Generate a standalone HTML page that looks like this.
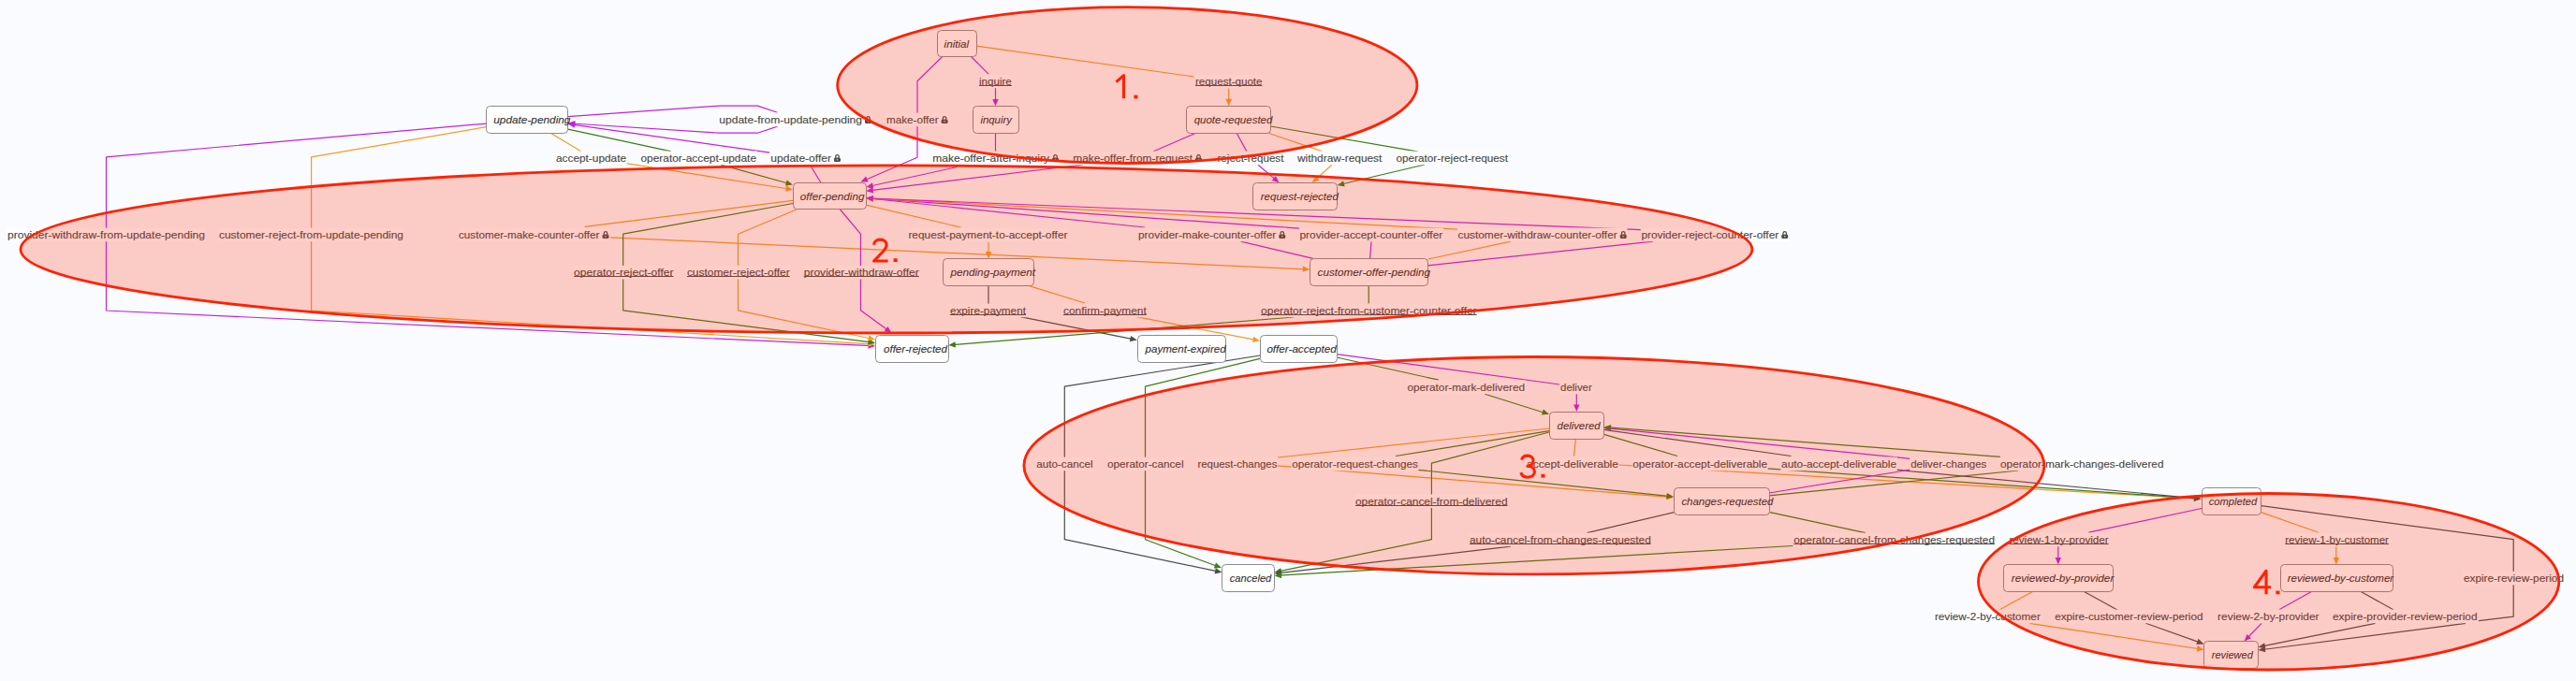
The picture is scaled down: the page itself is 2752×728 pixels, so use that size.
<!DOCTYPE html><html><head><meta charset="utf-8"><style>html,body{margin:0;padding:0;background:#fafbfe;overflow:hidden}svg{display:block}text{font-family:"Liberation Sans",sans-serif}</style></head><body>
<svg width="2752" height="728" viewBox="0 0 2752 728">
<rect width="2752" height="728" fill="#fafbfe"/>
<polyline points="606.8,124.7 769,113.1 809.3,113.1 830.6,120.3" fill="none" stroke="#c51fe0" stroke-width="1.2" stroke-linejoin="round"/>
<polyline points="830.6,135.1 809.3,142.2 769,142.2 611.29,131.99" fill="none" stroke="#c51fe0" stroke-width="1.2" stroke-linejoin="round"/>
<polygon points="606.8,131.7 614.49,128.99 614.08,135.38" fill="#c51fe0"/>
<polyline points="587.8,142 620.8,161.8" fill="none" stroke="#f59c22" stroke-width="1.2" stroke-linejoin="round"/>
<polyline points="669,174.6 842.56,202" fill="none" stroke="#f59c22" stroke-width="1.2" stroke-linejoin="round"/>
<polygon points="847,202.7 839.09,204.69 840.09,198.37" fill="#f59c22"/>
<polyline points="606.8,138.2 717,161.8" fill="none" stroke="#3f7d10" stroke-width="1.2" stroke-linejoin="round"/>
<polyline points="770.3,176.1 842.67,196.29" fill="none" stroke="#3f7d10" stroke-width="1.2" stroke-linejoin="round"/>
<polygon points="847,197.5 838.92,198.57 840.64,192.4" fill="#3f7d10"/>
<polyline points="876.8,195 866.4,178" fill="none" stroke="#c51fe0" stroke-width="1.2" stroke-linejoin="round"/>
<polyline points="822.3,163.1 611.26,133.13" fill="none" stroke="#c51fe0" stroke-width="1.2" stroke-linejoin="round"/>
<polygon points="606.8,132.5 614.68,130.39 613.78,136.72" fill="#c51fe0"/>
<polyline points="519.5,132.1 113.5,167.8 113.5,332 930.5,369.69" fill="none" stroke="#c51fe0" stroke-width="1.2" stroke-linejoin="round"/>
<polygon points="935,369.9 927.36,372.75 927.66,366.36" fill="#c51fe0"/>
<polyline points="519.5,135.7 332.6,167.8 332.6,332 930.51,367.83" fill="none" stroke="#f59c22" stroke-width="1.2" stroke-linejoin="round"/>
<polygon points="935,368.1 927.32,370.85 927.7,364.46" fill="#f59c22"/>
<polyline points="847,214.3 624.7,242.4" fill="none" stroke="#f59c22" stroke-width="1.2" stroke-linejoin="round"/>
<polyline points="652,253.8 1394.8,287.79" fill="none" stroke="#f59c22" stroke-width="1.2" stroke-linejoin="round"/>
<polygon points="1399.3,288 1391.66,290.85 1391.95,284.46" fill="#f59c22"/>
<polyline points="847,217.5 665.7,250.2 665.7,331.8 930.54,365.83" fill="none" stroke="#3f7d10" stroke-width="1.2" stroke-linejoin="round"/>
<polygon points="935,366.4 927.15,368.62 927.97,362.27" fill="#3f7d10"/>
<polyline points="850.8,224 788.5,250.2 788.5,331.8 930.6,361.97" fill="none" stroke="#f59c22" stroke-width="1.2" stroke-linejoin="round"/>
<polygon points="935,362.9 927,364.47 928.33,358.21" fill="#f59c22"/>
<polyline points="897.6,224 919.5,250.2 919.5,331.8 948.96,353.25" fill="none" stroke="#c51fe0" stroke-width="1.2" stroke-linejoin="round"/>
<polygon points="952.6,355.9 944.65,354.07 948.42,348.9" fill="#c51fe0"/>
<polyline points="1007.2,60 980,86.7 980,168.3 923.63,192.71" fill="none" stroke="#c51fe0" stroke-width="1.2" stroke-linejoin="round"/>
<polygon points="919.5,194.5 925.11,188.58 927.65,194.46" fill="#c51fe0"/>
<polyline points="1037,60 1056.3,79.4" fill="none" stroke="#c51fe0" stroke-width="1.2" stroke-linejoin="round"/>
<polyline points="1063.5,94 1063.5,109" fill="none" stroke="#c51fe0" stroke-width="1.2" stroke-linejoin="round"/>
<polygon points="1063.5,113.5 1060.3,106 1066.7,106" fill="#c51fe0"/>
<polyline points="1043,49.2 1275.6,82" fill="none" stroke="#f59c22" stroke-width="1.2" stroke-linejoin="round"/>
<polyline points="1312.7,94.5 1312.7,108.8" fill="none" stroke="#f59c22" stroke-width="1.2" stroke-linejoin="round"/>
<polygon points="1312.7,113.3 1309.5,105.8 1315.9,105.8" fill="#f59c22"/>
<polyline points="1063.5,142 1063.5,162" fill="none" stroke="#c51fe0" stroke-width="1.2" stroke-linejoin="round"/>
<polyline points="1022.5,178.5 929.69,199.03" fill="none" stroke="#c51fe0" stroke-width="1.2" stroke-linejoin="round"/>
<polygon points="925.3,200 931.93,195.26 933.31,201.5" fill="#c51fe0"/>
<polyline points="1277.6,142.3 1231.9,162" fill="none" stroke="#c51fe0" stroke-width="1.2" stroke-linejoin="round"/>
<polyline points="1157.2,176 929.77,203.66" fill="none" stroke="#c51fe0" stroke-width="1.2" stroke-linejoin="round"/>
<polygon points="925.3,204.2 932.36,200.12 933.13,206.47" fill="#c51fe0"/>
<polyline points="1321.2,142.3 1332,162.1" fill="none" stroke="#c51fe0" stroke-width="1.2" stroke-linejoin="round"/>
<polyline points="1343.8,176 1363.07,192.39" fill="none" stroke="#c51fe0" stroke-width="1.2" stroke-linejoin="round"/>
<polygon points="1366.5,195.3 1358.71,192.88 1362.86,188" fill="#c51fe0"/>
<polyline points="1354.9,142.3 1412.3,161.6" fill="none" stroke="#f59c22" stroke-width="1.2" stroke-linejoin="round"/>
<polyline points="1423,176 1405.13,192.27" fill="none" stroke="#f59c22" stroke-width="1.2" stroke-linejoin="round"/>
<polygon points="1401.8,195.3 1405.19,187.88 1409.5,192.62" fill="#f59c22"/>
<polyline points="1357.4,135 1515,162.1" fill="none" stroke="#3f7d10" stroke-width="1.2" stroke-linejoin="round"/>
<polyline points="1521.9,176 1432.98,196.97" fill="none" stroke="#3f7d10" stroke-width="1.2" stroke-linejoin="round"/>
<polygon points="1428.6,198 1435.17,193.16 1436.63,199.39" fill="#3f7d10"/>
<polyline points="1402.9,276.4 1325.6,258.2" fill="none" stroke="#c51fe0" stroke-width="1.2" stroke-linejoin="round"/>
<polyline points="1222.9,243 929.78,212.27" fill="none" stroke="#c51fe0" stroke-width="1.2" stroke-linejoin="round"/>
<polygon points="925.3,211.8 933.09,209.4 932.43,215.76" fill="#c51fe0"/>
<polyline points="1463.6,276.4 1465,258.2" fill="none" stroke="#c51fe0" stroke-width="1.2" stroke-linejoin="round"/>
<polyline points="1388,244.2 929.79,212.11" fill="none" stroke="#c51fe0" stroke-width="1.2" stroke-linejoin="round"/>
<polygon points="925.3,211.8 933.01,209.13 932.56,215.52" fill="#c51fe0"/>
<polyline points="1525.7,277 1614,258.2" fill="none" stroke="#f59c22" stroke-width="1.2" stroke-linejoin="round"/>
<polyline points="1557,245.2 929.79,212.04" fill="none" stroke="#f59c22" stroke-width="1.2" stroke-linejoin="round"/>
<polygon points="925.3,211.8 932.96,209 932.62,215.39" fill="#f59c22"/>
<polyline points="1525.2,283.8 1765.8,258.2" fill="none" stroke="#c51fe0" stroke-width="1.2" stroke-linejoin="round"/>
<polyline points="1753,245.7 929.8,211.98" fill="none" stroke="#c51fe0" stroke-width="1.2" stroke-linejoin="round"/>
<polygon points="925.3,211.8 932.92,208.91 932.66,215.3" fill="#c51fe0"/>
<polyline points="925.3,219.1 1026.5,243" fill="none" stroke="#f59c22" stroke-width="1.2" stroke-linejoin="round"/>
<polyline points="1056,258.7 1056,272.1" fill="none" stroke="#f59c22" stroke-width="1.2" stroke-linejoin="round"/>
<polygon points="1056,276.6 1052.8,269.1 1059.2,269.1" fill="#f59c22"/>
<polyline points="1056,305.6 1056,325" fill="none" stroke="#4d4d4d" stroke-width="1.2" stroke-linejoin="round"/>
<polyline points="1090,338.7 1210.39,362.62" fill="none" stroke="#4d4d4d" stroke-width="1.2" stroke-linejoin="round"/>
<polygon points="1214.8,363.5 1206.82,365.18 1208.07,358.9" fill="#4d4d4d"/>
<polyline points="1099.6,305.6 1159,324" fill="none" stroke="#f59c22" stroke-width="1.2" stroke-linejoin="round"/>
<polyline points="1214,338.7 1341.58,363.44" fill="none" stroke="#f59c22" stroke-width="1.2" stroke-linejoin="round"/>
<polygon points="1346,364.3 1338.03,366.01 1339.25,359.73" fill="#f59c22"/>
<polyline points="1462.2,305.4 1462.2,324.7" fill="none" stroke="#3f7d10" stroke-width="1.2" stroke-linejoin="round"/>
<polyline points="1382.2,339 1017.79,368.64" fill="none" stroke="#3f7d10" stroke-width="1.2" stroke-linejoin="round"/>
<polygon points="1013.3,369 1020.52,365.2 1021.03,371.58" fill="#3f7d10"/>
<polyline points="1346,380 1137.3,413.1 1137.3,576.7 1301.09,610.88" fill="none" stroke="#4d4d4d" stroke-width="1.2" stroke-linejoin="round"/>
<polygon points="1305.5,611.8 1297.5,613.4 1298.81,607.14" fill="#4d4d4d"/>
<polyline points="1346,383.3 1223.5,413.1 1223.5,576.7 1300.78,605.53" fill="none" stroke="#3f7d10" stroke-width="1.2" stroke-linejoin="round"/>
<polygon points="1305,607.1 1296.85,607.48 1299.09,601.48" fill="#3f7d10"/>
<polyline points="1428,382 1537,406.2" fill="none" stroke="#3f7d10" stroke-width="1.2" stroke-linejoin="round"/>
<polyline points="1586.3,421.3 1650.71,441.46" fill="none" stroke="#3f7d10" stroke-width="1.2" stroke-linejoin="round"/>
<polygon points="1655,442.8 1646.89,443.61 1648.8,437.51" fill="#3f7d10"/>
<polyline points="1428,378.6 1666.3,411" fill="none" stroke="#c51fe0" stroke-width="1.2" stroke-linejoin="round"/>
<polyline points="1684.3,421.3 1684.3,435.5" fill="none" stroke="#c51fe0" stroke-width="1.2" stroke-linejoin="round"/>
<polygon points="1684.3,440 1681.1,432.5 1687.5,432.5" fill="#c51fe0"/>
<polyline points="1655,458 1365,489" fill="none" stroke="#f59c22" stroke-width="1.2" stroke-linejoin="round"/>
<polyline points="1364.4,497.9 1783.51,531.34" fill="none" stroke="#f59c22" stroke-width="1.2" stroke-linejoin="round"/>
<polygon points="1788,531.7 1780.27,534.29 1780.78,527.91" fill="#f59c22"/>
<polyline points="1655,460.7 1491,487.5" fill="none" stroke="#3f7d10" stroke-width="1.2" stroke-linejoin="round"/>
<polyline points="1514.8,502.3 1783.52,530.53" fill="none" stroke="#3f7d10" stroke-width="1.2" stroke-linejoin="round"/>
<polygon points="1788,531 1780.21,533.4 1780.88,527.03" fill="#3f7d10"/>
<polyline points="1655,462 1529.4,495.1 1529.4,576.7 1365.9,610.88" fill="none" stroke="#3f7d10" stroke-width="1.2" stroke-linejoin="round"/>
<polygon points="1361.5,611.8 1368.19,607.13 1369.5,613.4" fill="#3f7d10"/>
<polyline points="1683.4,469 1681.5,487.5" fill="none" stroke="#f59c22" stroke-width="1.2" stroke-linejoin="round"/>
<polyline points="1729,497 2347.01,533.04" fill="none" stroke="#f59c22" stroke-width="1.2" stroke-linejoin="round"/>
<polygon points="2351.5,533.3 2343.83,536.06 2344.2,529.67" fill="#f59c22"/>
<polyline points="1713.5,464.3 1792,487.5" fill="none" stroke="#3f7d10" stroke-width="1.2" stroke-linejoin="round"/>
<polyline points="1888,500.8 2347.01,532.99" fill="none" stroke="#3f7d10" stroke-width="1.2" stroke-linejoin="round"/>
<polygon points="2351.5,533.3 2343.79,535.97 2344.24,529.58" fill="#3f7d10"/>
<polyline points="1713.5,459.4 1913.4,487.5" fill="none" stroke="#4d4d4d" stroke-width="1.2" stroke-linejoin="round"/>
<polyline points="2026,502.2 2347.02,532.87" fill="none" stroke="#4d4d4d" stroke-width="1.2" stroke-linejoin="round"/>
<polygon points="2351.5,533.3 2343.73,535.77 2344.34,529.4" fill="#4d4d4d"/>
<polyline points="1890,527 2040.3,502.2" fill="none" stroke="#c51fe0" stroke-width="1.2" stroke-linejoin="round"/>
<polyline points="2040.3,490.3 1717.98,457.95" fill="none" stroke="#c51fe0" stroke-width="1.2" stroke-linejoin="round"/>
<polygon points="1713.5,457.5 1721.28,455.06 1720.64,461.43" fill="#c51fe0"/>
<polyline points="1890,529.8 2156.2,503" fill="none" stroke="#3f7d10" stroke-width="1.2" stroke-linejoin="round"/>
<polyline points="2137,488.3 1717.99,456.94" fill="none" stroke="#3f7d10" stroke-width="1.2" stroke-linejoin="round"/>
<polygon points="1713.5,456.6 1721.22,453.97 1720.74,460.35" fill="#3f7d10"/>
<polyline points="1788.6,547.6 1695.5,569.6" fill="none" stroke="#4d4d4d" stroke-width="1.2" stroke-linejoin="round"/>
<polyline points="1614,584.2 1365.97,612.69" fill="none" stroke="#4d4d4d" stroke-width="1.2" stroke-linejoin="round"/>
<polygon points="1361.5,613.2 1368.59,609.17 1369.32,615.52" fill="#4d4d4d"/>
<polyline points="1890.8,547.6 1992.9,569.7" fill="none" stroke="#3f7d10" stroke-width="1.2" stroke-linejoin="round"/>
<polyline points="1915.6,583.5 1365.99,615.14" fill="none" stroke="#3f7d10" stroke-width="1.2" stroke-linejoin="round"/>
<polygon points="1361.5,615.4 1368.8,611.77 1369.17,618.16" fill="#3f7d10"/>
<polyline points="2352,543.5 2231.4,569.2" fill="none" stroke="#c51fe0" stroke-width="1.2" stroke-linejoin="round"/>
<polyline points="2198.8,584 2198.8,598.9" fill="none" stroke="#c51fe0" stroke-width="1.2" stroke-linejoin="round"/>
<polygon points="2198.8,603.4 2195.6,595.9 2202,595.9" fill="#c51fe0"/>
<polyline points="2415.5,547.6 2477,569.2" fill="none" stroke="#f59c22" stroke-width="1.2" stroke-linejoin="round"/>
<polyline points="2495.8,584 2495.8,599" fill="none" stroke="#f59c22" stroke-width="1.2" stroke-linejoin="round"/>
<polygon points="2495.8,603.5 2492.6,596 2499,596" fill="#f59c22"/>
<polyline points="2415.5,540.7 2685.2,576.7 2685.2,659.2 2648,663.7" fill="none" stroke="#4d4d4d" stroke-width="1.2" stroke-linejoin="round"/>
<polyline points="2634.1,666.4 2416.96,694.52" fill="none" stroke="#4d4d4d" stroke-width="1.2" stroke-linejoin="round"/>
<polygon points="2412.5,695.1 2419.53,690.96 2420.35,697.31" fill="#4d4d4d"/>
<polyline points="2171.8,632.3 2135.9,652" fill="none" stroke="#f59c22" stroke-width="1.2" stroke-linejoin="round"/>
<polyline points="2168.2,666.3 2350.05,693.73" fill="none" stroke="#f59c22" stroke-width="1.2" stroke-linejoin="round"/>
<polygon points="2354.5,694.4 2346.61,696.45 2347.56,690.12" fill="#f59c22"/>
<polyline points="2226.1,632.3 2262,652" fill="none" stroke="#4d4d4d" stroke-width="1.2" stroke-linejoin="round"/>
<polyline points="2292.4,666.3 2350.26,686.89" fill="none" stroke="#4d4d4d" stroke-width="1.2" stroke-linejoin="round"/>
<polygon points="2354.5,688.4 2346.36,688.9 2348.51,682.87" fill="#4d4d4d"/>
<polyline points="2469.3,632.5 2434.8,651.8" fill="none" stroke="#c51fe0" stroke-width="1.2" stroke-linejoin="round"/>
<polyline points="2416,666.4 2400.72,682.26" fill="none" stroke="#c51fe0" stroke-width="1.2" stroke-linejoin="round"/>
<polygon points="2397.6,685.5 2400.5,677.88 2405.11,682.32" fill="#c51fe0"/>
<polyline points="2522.3,632.5 2556.8,651.8" fill="none" stroke="#4d4d4d" stroke-width="1.2" stroke-linejoin="round"/>
<polyline points="2537.5,666.4 2416.91,690.9" fill="none" stroke="#4d4d4d" stroke-width="1.2" stroke-linejoin="round"/>
<polygon points="2412.5,691.8 2419.21,687.17 2420.49,693.44" fill="#4d4d4d"/>
<rect x="1045.3" y="79.6" width="36.2" height="14.6" fill="#ffffff"/>
<text x="1046" y="90.9" font-size="11" fill="#4a4a4a" textLength="34.8" lengthAdjust="spacingAndGlyphs" stroke="#4a4a4a" stroke-width="0.15">inquire</text>
<rect x="1046" y="91" width="34.8" height="1" fill="#4a4a4a"/>
<rect x="1276.3" y="79.6" width="72.9" height="14.6" fill="#ffffff"/>
<text x="1277" y="90.9" font-size="11" fill="#4a4a4a" textLength="71.5" lengthAdjust="spacingAndGlyphs" stroke="#4a4a4a" stroke-width="0.15">request-quote</text>
<rect x="1277" y="91" width="71.5" height="1" fill="#4a4a4a"/>
<rect x="767.6" y="120.6" width="164.1" height="14.6" fill="#ffffff"/>
<text x="768.3" y="131.9" font-size="11" fill="#4a4a4a" textLength="152.7" lengthAdjust="spacingAndGlyphs" stroke="#4a4a4a" stroke-width="0.15">update-from-update-pending</text>
<path d="M925.75 127.7 v-1.3 a1.75 1.75 0 0 1 3.5 0 v1.3" fill="none" stroke="#4a4a4a" stroke-width="1.3"/>
<rect x="924" y="127.4" width="7" height="4.6" rx="1.6" fill="#4a4a4a"/>
<circle cx="927.5" cy="129.7" r="0.9" fill="#ffffff" fill-opacity="0.6"/>
<rect x="946.3" y="120.6" width="67" height="14.6" fill="#ffffff"/>
<text x="947" y="131.9" font-size="11" fill="#4a4a4a" textLength="55.6" lengthAdjust="spacingAndGlyphs" stroke="#4a4a4a" stroke-width="0.15">make-offer</text>
<path d="M1007.35 127.7 v-1.3 a1.75 1.75 0 0 1 3.5 0 v1.3" fill="none" stroke="#4a4a4a" stroke-width="1.3"/>
<rect x="1005.6" y="127.4" width="7" height="4.6" rx="1.6" fill="#4a4a4a"/>
<circle cx="1009.1" cy="129.7" r="0.9" fill="#ffffff" fill-opacity="0.6"/>
<rect x="593.3" y="161.6" width="76.4" height="14.6" fill="#ffffff"/>
<text x="594" y="172.9" font-size="11" fill="#4a4a4a" textLength="75" lengthAdjust="spacingAndGlyphs" stroke="#4a4a4a" stroke-width="0.15">accept-update</text>
<rect x="683.8" y="161.6" width="124.9" height="14.6" fill="#ffffff"/>
<text x="684.5" y="172.9" font-size="11" fill="#4a4a4a" textLength="123.5" lengthAdjust="spacingAndGlyphs" stroke="#4a4a4a" stroke-width="0.15">operator-accept-update</text>
<rect x="822.6" y="161.6" width="76.1" height="14.6" fill="#ffffff"/>
<text x="823.3" y="172.9" font-size="11" fill="#4a4a4a" textLength="64.7" lengthAdjust="spacingAndGlyphs" stroke="#4a4a4a" stroke-width="0.15">update-offer</text>
<path d="M892.75 168.7 v-1.3 a1.75 1.75 0 0 1 3.5 0 v1.3" fill="none" stroke="#4a4a4a" stroke-width="1.3"/>
<rect x="891" y="168.4" width="7" height="4.6" rx="1.6" fill="#4a4a4a"/>
<circle cx="894.5" cy="170.7" r="0.9" fill="#ffffff" fill-opacity="0.6"/>
<rect x="995.6" y="161.6" width="136.1" height="14.6" fill="#ffffff"/>
<text x="996.3" y="172.9" font-size="11" fill="#4a4a4a" textLength="124.7" lengthAdjust="spacingAndGlyphs" stroke="#4a4a4a" stroke-width="0.15">make-offer-after-inquiry</text>
<path d="M1125.75 168.7 v-1.3 a1.75 1.75 0 0 1 3.5 0 v1.3" fill="none" stroke="#4a4a4a" stroke-width="1.3"/>
<rect x="1124" y="168.4" width="7" height="4.6" rx="1.6" fill="#4a4a4a"/>
<circle cx="1127.5" cy="170.7" r="0.9" fill="#ffffff" fill-opacity="0.6"/>
<rect x="1145.6" y="161.6" width="139.1" height="14.6" fill="#ffffff"/>
<text x="1146.3" y="172.9" font-size="11" fill="#4a4a4a" textLength="127.7" lengthAdjust="spacingAndGlyphs" stroke="#4a4a4a" stroke-width="0.15">make-offer-from-request</text>
<path d="M1278.75 168.7 v-1.3 a1.75 1.75 0 0 1 3.5 0 v1.3" fill="none" stroke="#4a4a4a" stroke-width="1.3"/>
<rect x="1277" y="168.4" width="7" height="4.6" rx="1.6" fill="#4a4a4a"/>
<circle cx="1280.5" cy="170.7" r="0.9" fill="#ffffff" fill-opacity="0.6"/>
<rect x="1299.8" y="161.6" width="72.3" height="14.6" fill="#ffffff"/>
<text x="1300.5" y="172.9" font-size="11" fill="#4a4a4a" textLength="70.9" lengthAdjust="spacingAndGlyphs" stroke="#4a4a4a" stroke-width="0.15">reject-request</text>
<rect x="1385.3" y="161.6" width="91.7" height="14.6" fill="#ffffff"/>
<text x="1386" y="172.9" font-size="11" fill="#4a4a4a" textLength="90.3" lengthAdjust="spacingAndGlyphs" stroke="#4a4a4a" stroke-width="0.15">withdraw-request</text>
<rect x="1490.8" y="161.6" width="120.9" height="14.6" fill="#ffffff"/>
<text x="1491.5" y="172.9" font-size="11" fill="#4a4a4a" textLength="119.5" lengthAdjust="spacingAndGlyphs" stroke="#4a4a4a" stroke-width="0.15">operator-reject-request</text>
<rect x="7.3" y="243.6" width="212.4" height="14.6" fill="#ffffff"/>
<text x="8" y="254.9" font-size="11" fill="#4a4a4a" textLength="211" lengthAdjust="spacingAndGlyphs" stroke="#4a4a4a" stroke-width="0.15">provider-withdraw-from-update-pending</text>
<rect x="233.3" y="243.6" width="198.4" height="14.6" fill="#ffffff"/>
<text x="234" y="254.9" font-size="11" fill="#4a4a4a" textLength="197" lengthAdjust="spacingAndGlyphs" stroke="#4a4a4a" stroke-width="0.15">customer-reject-from-update-pending</text>
<rect x="489.3" y="243.6" width="161.9" height="14.6" fill="#ffffff"/>
<text x="490" y="254.9" font-size="11" fill="#4a4a4a" textLength="150.5" lengthAdjust="spacingAndGlyphs" stroke="#4a4a4a" stroke-width="0.15">customer-make-counter-offer</text>
<path d="M645.25 250.7 v-1.3 a1.75 1.75 0 0 1 3.5 0 v1.3" fill="none" stroke="#4a4a4a" stroke-width="1.3"/>
<rect x="643.5" y="250.4" width="7" height="4.6" rx="1.6" fill="#4a4a4a"/>
<circle cx="647" cy="252.7" r="0.9" fill="#ffffff" fill-opacity="0.6"/>
<rect x="969.7" y="243.6" width="171.5" height="14.6" fill="#ffffff"/>
<text x="970.4" y="254.9" font-size="11" fill="#4a4a4a" textLength="170.1" lengthAdjust="spacingAndGlyphs" stroke="#4a4a4a" stroke-width="0.15">request-payment-to-accept-offer</text>
<rect x="1215.3" y="243.6" width="158.7" height="14.6" fill="#ffffff"/>
<text x="1216" y="254.9" font-size="11" fill="#4a4a4a" textLength="147.3" lengthAdjust="spacingAndGlyphs" stroke="#4a4a4a" stroke-width="0.15">provider-make-counter-offer</text>
<path d="M1368.05 250.7 v-1.3 a1.75 1.75 0 0 1 3.5 0 v1.3" fill="none" stroke="#4a4a4a" stroke-width="1.3"/>
<rect x="1366.3" y="250.4" width="7" height="4.6" rx="1.6" fill="#4a4a4a"/>
<circle cx="1369.8" cy="252.7" r="0.9" fill="#ffffff" fill-opacity="0.6"/>
<rect x="1387.8" y="243.6" width="154.1" height="14.6" fill="#ffffff"/>
<text x="1388.5" y="254.9" font-size="11" fill="#4a4a4a" textLength="152.7" lengthAdjust="spacingAndGlyphs" stroke="#4a4a4a" stroke-width="0.15">provider-accept-counter-offer</text>
<rect x="1556.8" y="243.6" width="181.6" height="14.6" fill="#ffffff"/>
<text x="1557.5" y="254.9" font-size="11" fill="#4a4a4a" textLength="170.2" lengthAdjust="spacingAndGlyphs" stroke="#4a4a4a" stroke-width="0.15">customer-withdraw-counter-offer</text>
<path d="M1732.45 250.7 v-1.3 a1.75 1.75 0 0 1 3.5 0 v1.3" fill="none" stroke="#4a4a4a" stroke-width="1.3"/>
<rect x="1730.7" y="250.4" width="7" height="4.6" rx="1.6" fill="#4a4a4a"/>
<circle cx="1734.2" cy="252.7" r="0.9" fill="#ffffff" fill-opacity="0.6"/>
<rect x="1752.7" y="243.6" width="158.2" height="14.6" fill="#ffffff"/>
<text x="1753.4" y="254.9" font-size="11" fill="#4a4a4a" textLength="146.8" lengthAdjust="spacingAndGlyphs" stroke="#4a4a4a" stroke-width="0.15">provider-reject-counter-offer</text>
<path d="M1904.95 250.7 v-1.3 a1.75 1.75 0 0 1 3.5 0 v1.3" fill="none" stroke="#4a4a4a" stroke-width="1.3"/>
<rect x="1903.2" y="250.4" width="7" height="4.6" rx="1.6" fill="#4a4a4a"/>
<circle cx="1906.7" cy="252.7" r="0.9" fill="#ffffff" fill-opacity="0.6"/>
<rect x="612.3" y="283.9" width="107.9" height="14.6" fill="#ffffff"/>
<text x="613" y="295.2" font-size="11" fill="#4a4a4a" textLength="106.5" lengthAdjust="spacingAndGlyphs" stroke="#4a4a4a" stroke-width="0.15">operator-reject-offer</text>
<rect x="613" y="295" width="106.5" height="1" fill="#4a4a4a"/>
<rect x="733.2" y="283.9" width="111.2" height="14.6" fill="#ffffff"/>
<text x="733.9" y="295.2" font-size="11" fill="#4a4a4a" textLength="109.8" lengthAdjust="spacingAndGlyphs" stroke="#4a4a4a" stroke-width="0.15">customer-reject-offer</text>
<rect x="733.9" y="295" width="109.8" height="1" fill="#4a4a4a"/>
<rect x="858" y="283.9" width="124.5" height="14.6" fill="#ffffff"/>
<text x="858.7" y="295.2" font-size="11" fill="#4a4a4a" textLength="123.1" lengthAdjust="spacingAndGlyphs" stroke="#4a4a4a" stroke-width="0.15">provider-withdraw-offer</text>
<rect x="858.7" y="295" width="123.1" height="1" fill="#4a4a4a"/>
<rect x="1014.2" y="324.6" width="82.5" height="14.6" fill="#ffffff"/>
<text x="1014.9" y="335.9" font-size="11" fill="#4a4a4a" textLength="81.1" lengthAdjust="spacingAndGlyphs" stroke="#4a4a4a" stroke-width="0.15">expire-payment</text>
<rect x="1014.9" y="336" width="81.1" height="1" fill="#4a4a4a"/>
<rect x="1135.3" y="324.6" width="90.1" height="14.6" fill="#ffffff"/>
<text x="1136" y="335.9" font-size="11" fill="#4a4a4a" textLength="88.7" lengthAdjust="spacingAndGlyphs" stroke="#4a4a4a" stroke-width="0.15">confirm-payment</text>
<rect x="1136" y="336" width="88.7" height="1" fill="#4a4a4a"/>
<rect x="1346.4" y="324.6" width="231.9" height="14.6" fill="#ffffff"/>
<text x="1347.1" y="335.9" font-size="11" fill="#4a4a4a" textLength="230.5" lengthAdjust="spacingAndGlyphs" stroke="#4a4a4a" stroke-width="0.15">operator-reject-from-customer-counter-offer</text>
<rect x="1347.1" y="336" width="230.5" height="1" fill="#4a4a4a"/>
<rect x="1502.8" y="406.5" width="126.9" height="14.6" fill="#ffffff"/>
<text x="1503.5" y="417.8" font-size="11" fill="#4a4a4a" textLength="125.5" lengthAdjust="spacingAndGlyphs" stroke="#4a4a4a" stroke-width="0.15">operator-mark-delivered</text>
<rect x="1666.4" y="406.5" width="35.1" height="14.6" fill="#ffffff"/>
<text x="1667.1" y="417.8" font-size="11" fill="#4a4a4a" textLength="33.7" lengthAdjust="spacingAndGlyphs" stroke="#4a4a4a" stroke-width="0.15">deliver</text>
<rect x="1106.5" y="488.6" width="61.8" height="14.6" fill="#ffffff"/>
<text x="1107.2" y="499.9" font-size="11" fill="#4a4a4a" textLength="60.4" lengthAdjust="spacingAndGlyphs" stroke="#4a4a4a" stroke-width="0.15">auto-cancel</text>
<rect x="1182.3" y="488.6" width="82.9" height="14.6" fill="#ffffff"/>
<text x="1183" y="499.9" font-size="11" fill="#4a4a4a" textLength="81.5" lengthAdjust="spacingAndGlyphs" stroke="#4a4a4a" stroke-width="0.15">operator-cancel</text>
<rect x="1278.7" y="488.6" width="86.4" height="14.6" fill="#ffffff"/>
<text x="1279.4" y="499.9" font-size="11" fill="#4a4a4a" textLength="85" lengthAdjust="spacingAndGlyphs" stroke="#4a4a4a" stroke-width="0.15">request-changes</text>
<rect x="1379.5" y="488.6" width="136" height="14.6" fill="#ffffff"/>
<text x="1380.2" y="499.9" font-size="11" fill="#4a4a4a" textLength="134.6" lengthAdjust="spacingAndGlyphs" stroke="#4a4a4a" stroke-width="0.15">operator-request-changes</text>
<rect x="1630.3" y="488.6" width="99.4" height="14.6" fill="#ffffff"/>
<text x="1631" y="499.9" font-size="11" fill="#4a4a4a" textLength="98" lengthAdjust="spacingAndGlyphs" stroke="#4a4a4a" stroke-width="0.15">accept-deliverable</text>
<rect x="1743.5" y="488.6" width="145.2" height="14.6" fill="#ffffff"/>
<text x="1744.2" y="499.9" font-size="11" fill="#4a4a4a" textLength="143.8" lengthAdjust="spacingAndGlyphs" stroke="#4a4a4a" stroke-width="0.15">operator-accept-deliverable</text>
<rect x="1902.4" y="488.6" width="124.3" height="14.6" fill="#ffffff"/>
<text x="1903.1" y="499.9" font-size="11" fill="#4a4a4a" textLength="122.9" lengthAdjust="spacingAndGlyphs" stroke="#4a4a4a" stroke-width="0.15">auto-accept-deliverable</text>
<rect x="2040.5" y="488.6" width="82.5" height="14.6" fill="#ffffff"/>
<text x="2041.2" y="499.9" font-size="11" fill="#4a4a4a" textLength="81.1" lengthAdjust="spacingAndGlyphs" stroke="#4a4a4a" stroke-width="0.15">deliver-changes</text>
<rect x="2136.3" y="488.6" width="175.9" height="14.6" fill="#ffffff"/>
<text x="2137" y="499.9" font-size="11" fill="#4a4a4a" textLength="174.5" lengthAdjust="spacingAndGlyphs" stroke="#4a4a4a" stroke-width="0.15">operator-mark-changes-delivered</text>
<rect x="1447.3" y="528.4" width="163.9" height="14.6" fill="#ffffff"/>
<text x="1448" y="539.7" font-size="11" fill="#4a4a4a" textLength="162.5" lengthAdjust="spacingAndGlyphs" stroke="#4a4a4a" stroke-width="0.15">operator-cancel-from-delivered</text>
<rect x="1448" y="540" width="162.5" height="1" fill="#4a4a4a"/>
<rect x="1569.3" y="569.6" width="195.1" height="14.6" fill="#ffffff"/>
<text x="1570" y="580.9" font-size="11" fill="#4a4a4a" textLength="193.7" lengthAdjust="spacingAndGlyphs" stroke="#4a4a4a" stroke-width="0.15">auto-cancel-from-changes-requested</text>
<rect x="1570" y="581" width="193.7" height="1" fill="#4a4a4a"/>
<rect x="1915.5" y="569.6" width="216.2" height="14.6" fill="#ffffff"/>
<text x="1916.2" y="580.9" font-size="11" fill="#4a4a4a" textLength="214.8" lengthAdjust="spacingAndGlyphs" stroke="#4a4a4a" stroke-width="0.15">operator-cancel-from-changes-requested</text>
<rect x="1916.2" y="581" width="214.8" height="1" fill="#4a4a4a"/>
<rect x="2145.7" y="569.6" width="107.7" height="14.6" fill="#ffffff"/>
<text x="2146.4" y="580.9" font-size="11" fill="#4a4a4a" textLength="106.3" lengthAdjust="spacingAndGlyphs" stroke="#4a4a4a" stroke-width="0.15">review-1-by-provider</text>
<rect x="2146.4" y="581" width="106.3" height="1" fill="#4a4a4a"/>
<rect x="2440.5" y="569.6" width="112.1" height="14.6" fill="#ffffff"/>
<text x="2441.2" y="580.9" font-size="11" fill="#4a4a4a" textLength="110.7" lengthAdjust="spacingAndGlyphs" stroke="#4a4a4a" stroke-width="0.15">review-1-by-customer</text>
<rect x="2441.2" y="581" width="110.7" height="1" fill="#4a4a4a"/>
<rect x="2631.2" y="610.8" width="108.5" height="14.6" fill="#ffffff"/>
<text x="2631.9" y="622.1" font-size="11" fill="#4a4a4a" textLength="107.1" lengthAdjust="spacingAndGlyphs" stroke="#4a4a4a" stroke-width="0.15">expire-review-period</text>
<rect x="2066.2" y="651.6" width="114.3" height="14.6" fill="#ffffff"/>
<text x="2066.9" y="662.9" font-size="11" fill="#4a4a4a" textLength="112.9" lengthAdjust="spacingAndGlyphs" stroke="#4a4a4a" stroke-width="0.15">review-2-by-customer</text>
<rect x="2194.5" y="651.6" width="159.7" height="14.6" fill="#ffffff"/>
<text x="2195.2" y="662.9" font-size="11" fill="#4a4a4a" textLength="158.3" lengthAdjust="spacingAndGlyphs" stroke="#4a4a4a" stroke-width="0.15">expire-customer-review-period</text>
<rect x="2368.4" y="651.6" width="109.9" height="14.6" fill="#ffffff"/>
<text x="2369.1" y="662.9" font-size="11" fill="#4a4a4a" textLength="108.5" lengthAdjust="spacingAndGlyphs" stroke="#4a4a4a" stroke-width="0.15">review-2-by-provider</text>
<rect x="2491.3" y="651.6" width="156" height="14.6" fill="#ffffff"/>
<text x="2492" y="662.9" font-size="11" fill="#4a4a4a" textLength="154.6" lengthAdjust="spacingAndGlyphs" stroke="#4a4a4a" stroke-width="0.15">expire-provider-review-period</text>
<rect x="1001.5" y="32.5" width="42" height="28" rx="4" fill="#ffffff" stroke="#8c8c8c" stroke-width="1"/>
<text x="1008.6" y="50.6" font-size="10.5" font-style="italic" fill="#333333" textLength="26.5" lengthAdjust="spacingAndGlyphs" stroke="#333333" stroke-width="0.1">initial</text>
<rect x="1039.5" y="113.5" width="49" height="29" rx="4" fill="#ffffff" stroke="#8c8c8c" stroke-width="1"/>
<text x="1047.4" y="132.1" font-size="10.5" font-style="italic" fill="#333333" textLength="33.6" lengthAdjust="spacingAndGlyphs" stroke="#333333" stroke-width="0.1">inquiry</text>
<rect x="1267.5" y="113.5" width="90" height="29" rx="4" fill="#ffffff" stroke="#8c8c8c" stroke-width="1"/>
<text x="1275.7" y="131.9" font-size="10.5" font-style="italic" fill="#333333" textLength="83.7" lengthAdjust="spacingAndGlyphs" stroke="#333333" stroke-width="0.1">quote-requested</text>
<rect x="519.5" y="113.5" width="87" height="29" rx="4" fill="#ffffff" stroke="#8c8c8c" stroke-width="1"/>
<text x="527.3" y="132.1" font-size="10.5" font-style="italic" fill="#333333" textLength="82.1" lengthAdjust="spacingAndGlyphs" stroke="#333333" stroke-width="0.1">update-pending</text>
<rect x="847.5" y="195.5" width="78" height="28" rx="4" fill="#ffffff" stroke="#8c8c8c" stroke-width="1"/>
<text x="854.8" y="213.8" font-size="10.5" font-style="italic" fill="#333333" textLength="68.6" lengthAdjust="spacingAndGlyphs" stroke="#333333" stroke-width="0.1">offer-pending</text>
<rect x="1338.5" y="195.5" width="90" height="29" rx="4" fill="#ffffff" stroke="#8c8c8c" stroke-width="1"/>
<text x="1346.8" y="213.7" font-size="10.5" font-style="italic" fill="#333333" textLength="83" lengthAdjust="spacingAndGlyphs" stroke="#333333" stroke-width="0.1">request-rejected</text>
<rect x="1007.5" y="276.5" width="97" height="29" rx="4" fill="#ffffff" stroke="#8c8c8c" stroke-width="1"/>
<text x="1015.4" y="295.2" font-size="10.5" font-style="italic" fill="#333333" textLength="90.7" lengthAdjust="spacingAndGlyphs" stroke="#333333" stroke-width="0.1">pending-payment</text>
<rect x="1399.5" y="276.5" width="126" height="29" rx="4" fill="#ffffff" stroke="#8c8c8c" stroke-width="1"/>
<text x="1407.6" y="295" font-size="10.5" font-style="italic" fill="#333333" textLength="120.4" lengthAdjust="spacingAndGlyphs" stroke="#333333" stroke-width="0.1">customer-offer-pending</text>
<rect x="935.5" y="358.5" width="78" height="29" rx="4" fill="#ffffff" stroke="#8c8c8c" stroke-width="1"/>
<text x="944" y="377" font-size="10.5" font-style="italic" fill="#333333" textLength="68" lengthAdjust="spacingAndGlyphs" stroke="#333333" stroke-width="0.1">offer-rejected</text>
<rect x="1215.5" y="358.5" width="94" height="29" rx="4" fill="#ffffff" stroke="#8c8c8c" stroke-width="1"/>
<text x="1223.6" y="377" font-size="10.5" font-style="italic" fill="#333333" textLength="86" lengthAdjust="spacingAndGlyphs" stroke="#333333" stroke-width="0.1">payment-expired</text>
<rect x="1346.5" y="358.5" width="82" height="29" rx="4" fill="#ffffff" stroke="#8c8c8c" stroke-width="1"/>
<text x="1353.4" y="377" font-size="10.5" font-style="italic" fill="#333333" textLength="74.3" lengthAdjust="spacingAndGlyphs" stroke="#333333" stroke-width="0.1">offer-accepted</text>
<rect x="1655.5" y="440.5" width="58" height="29" rx="4" fill="#ffffff" stroke="#8c8c8c" stroke-width="1"/>
<text x="1663.6" y="458.6" font-size="10.5" font-style="italic" fill="#333333" textLength="45.9" lengthAdjust="spacingAndGlyphs" stroke="#333333" stroke-width="0.1">delivered</text>
<rect x="1788.5" y="521.5" width="102" height="29" rx="4" fill="#ffffff" stroke="#8c8c8c" stroke-width="1"/>
<text x="1796.4" y="540" font-size="10.5" font-style="italic" fill="#333333" textLength="98.1" lengthAdjust="spacingAndGlyphs" stroke="#333333" stroke-width="0.1">changes-requested</text>
<rect x="2352.5" y="521.5" width="63" height="29" rx="4" fill="#ffffff" stroke="#8c8c8c" stroke-width="1"/>
<text x="2359.8" y="540" font-size="10.5" font-style="italic" fill="#333333" textLength="51.4" lengthAdjust="spacingAndGlyphs" stroke="#333333" stroke-width="0.1">completed</text>
<rect x="1305.5" y="603.5" width="56" height="29" rx="4" fill="#ffffff" stroke="#8c8c8c" stroke-width="1"/>
<text x="1313.8" y="622.1" font-size="10.5" font-style="italic" fill="#333333" textLength="44.5" lengthAdjust="spacingAndGlyphs" stroke="#333333" stroke-width="0.1">canceled</text>
<rect x="2140.5" y="603.5" width="117" height="29" rx="4" fill="#ffffff" stroke="#8c8c8c" stroke-width="1"/>
<text x="2148.8" y="622" font-size="10.5" font-style="italic" fill="#333333" textLength="109.5" lengthAdjust="spacingAndGlyphs" stroke="#333333" stroke-width="0.1">reviewed-by-provider</text>
<rect x="2436.5" y="603.5" width="120" height="29" rx="4" fill="#ffffff" stroke="#8c8c8c" stroke-width="1"/>
<text x="2443.7" y="622.1" font-size="10.5" font-style="italic" fill="#333333" textLength="113.5" lengthAdjust="spacingAndGlyphs" stroke="#333333" stroke-width="0.1">reviewed-by-customer</text>
<rect x="2354.5" y="685.5" width="58" height="29" rx="4" fill="#ffffff" stroke="#8c8c8c" stroke-width="1"/>
<text x="2362.8" y="704.1" font-size="10.5" font-style="italic" fill="#333333" textLength="44" lengthAdjust="spacingAndGlyphs" stroke="#333333" stroke-width="0.1">reviewed</text>
<ellipse cx="1204.3" cy="91.05" rx="309.6" ry="83.45" fill="rgba(255,45,15,0.235)" stroke="#ff2200" stroke-width="2.8"/>
<ellipse cx="946.95" cy="266.45" rx="924.95" ry="89.55" fill="rgba(255,45,15,0.235)" stroke="#ff2200" stroke-width="2.8"/>
<ellipse cx="1638.9" cy="497.7" rx="545" ry="116.2" fill="rgba(255,45,15,0.235)" stroke="#ff2200" stroke-width="2.8"/>
<ellipse cx="2423.65" cy="621.75" rx="310.15" ry="94.25" fill="rgba(255,45,15,0.235)" stroke="#ff2200" stroke-width="2.8"/>
<path d="M1192.4,87.6 L1200.5,80.6 L1200.5,105.25" fill="none" stroke="#ff2200" stroke-width="3.1" stroke-linejoin="round"/>
<path d="M933.7,261.8 C933.7,258.3 936.5,256.1 940.4,256.1 C944.4,256.1 947.1,258.6 947.1,262 C947.1,264.5 945.8,266.2 944,268.2 L933.6,279.05 L948.6,279.05" fill="none" stroke="#ff2200" stroke-width="3.1" stroke-linejoin="round"/>
<path d="M1625.6,491.6 C1626.2,488.8 1628.6,487.1 1631.9,487.1 C1635.5,487.1 1638,489.5 1638,492.6 C1638,495.8 1635.5,498.2 1631.9,498.2 L1630.6,498.2 M1631.9,498.2 C1636.3,498.2 1639.4,500.8 1639.4,504.3 C1639.4,507.8 1636.2,510.2 1632,510.2 C1628.3,510.2 1625.6,508.2 1624.9,505.2" fill="none" stroke="#ff2200" stroke-width="3.1" stroke-linejoin="round"/>
<path d="M2421,635.25 L2421,610.2 L2408.4,627.75 L2426,627.75" fill="none" stroke="#ff2200" stroke-width="3.1" stroke-linejoin="round"/>
<rect x="1211.4" y="101.7" width="4.1" height="3.7" fill="#ff2200"/>
<rect x="954.6" y="276.3" width="4.1" height="3.7" fill="#ff2200"/>
<rect x="1646.4" y="506.9" width="4.1" height="3.7" fill="#ff2200"/>
<rect x="2431.4" y="631.6" width="4.1" height="3.7" fill="#ff2200"/>
</svg></body></html>
